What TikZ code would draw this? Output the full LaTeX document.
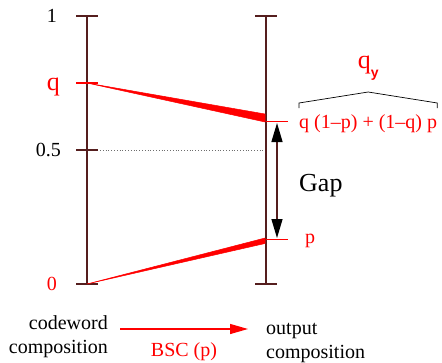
\documentclass[tikz,border=0pt]{standalone}
\usepackage{fontspec}
\setmainfont{Liberation Serif}
\newfontfamily\subsans{Liberation Sans}
\usetikzlibrary{arrows.meta,positioning,calc}
\definecolor{AxisColor}{RGB}{85,30,30}
\definecolor{ChannelRed}{RGB}{255,0,0}
\definecolor{DotGray}{RGB}{110,110,110}

\begin{document}
\begin{tikzpicture}[x=1pt, y=-1pt, >=Latex,
    axis/.style={AxisColor, line width=1.4pt},
    redtick/.style={ChannelRed, line width=1.3pt},
    wedge/.style={fill=ChannelRed, draw=ChannelRed, line width=0.5pt, line join=round},
    lbl/.style={inner sep=0pt, font=\rmfamily\fontsize{20}{24}\selectfont},
    biglbl/.style={inner sep=0pt, font=\rmfamily\fontsize{26}{26}\selectfont}]
  \useasboundingbox (0,0) rectangle (442,362);
  % the two composition axes
  \coordinate (Ltop) at (87,16);  \coordinate (Lbot) at (87,284);
  \coordinate (Rtop) at (266,16); \coordinate (Rbot) at (266,284);
  \coordinate (Lq) at (87,83);    \coordinate (Lhalf) at (87,150);
  \coordinate (Rqy) at (266,121.5); \coordinate (Rp) at (266,239.5);
  \draw[axis] (Ltop) -- (Lbot);
  \draw[axis] (Rtop) -- (Rbot);
  \foreach \c in {Ltop,Lhalf,Lbot,Rtop,Rbot}
    \draw[axis] ($(\c)+(-11,0)$) -- ($(\c)+(11,0)$);
  \draw[redtick] ($(Lq)+(-11,0)$) -- ($(Lq)+(11,0)$);
  \draw[redtick] (Rqy) -- ++(22,0);
  \draw[redtick] (Rp) -- ++(22,0);
  \draw[dotted, DotGray, line width=0.8pt] ($(Lhalf)+(13,0)$) -- ($(Lhalf)+(177,0)$);
  % channel wedges
  \filldraw[wedge] (Lq) -- ($(Rqy)+(-1,-7.5)$) -- ($(Rqy)+(-1,0.5)$) -- cycle;
  \filldraw[wedge] (Lbot) -- ($(Rp)+(-1,-1.5)$) -- ($(Rp)+(-1,4)$) -- cycle;
  % axis labels
  \node[lbl, anchor=base east] (one) at (57,22) {1};
  \node[biglbl, ChannelRed, anchor=base east] (qlab) at (60,90) {q};
  \node[lbl, anchor=base east] (half) at (61,156) {0.5};
  \node[lbl, ChannelRed, anchor=base east] (zero) at (57,290) {0};
  \node[lbl, ChannelRed, anchor=base west] (plab) at (305,243) {p};
  \node[lbl, ChannelRed, anchor=base west] (qexpr) at (299,128) {q (1\textendash p) + (1\textendash q) p};
  \draw[black, line width=0.7pt] ($(qexpr.base west)+(0,-20)$) -- ++(0,-5)
    -- ($(qexpr.base)+(0,-36)$) -- ($(qexpr.base east)+(0,-25)$) -- ++(0,5);
  \node[biglbl, ChannelRed, anchor=base] (qy) at ($(qexpr.base)+(0,-60)$)
    {q\raisebox{-9pt}{\fontsize{14}{14}\subsans\bfseries y}};
  % gap between the output compositions
  \coordinate (gapTop) at (277,123);
  \coordinate (gapBot) at (277,238);
  \draw[AxisColor, line width=1.3pt, {Triangle[length=19pt,width=11pt,color=black]}-{Triangle[length=19pt,width=11pt,color=black]}] (gapTop) -- (gapBot);
  \node[biglbl, anchor=base west] (gap) at (299,191) {Gap};
  % channel legend
  \node[lbl, align=right, anchor=base east] (codeword) at (108,353) {codeword\\composition};
  \node[lbl, align=left, anchor=base west] (output) at (266,358) {output\\composition};
  \coordinate (bscStart) at (120,329);
  \coordinate (bscEnd) at (248,329);
  \draw[ChannelRed, line width=1.3pt, -{Triangle[length=18pt,width=10pt]}] (bscStart) -- (bscEnd);
  \node[lbl, ChannelRed, anchor=base] (bsc) at ($(bscStart)!0.5!(bscEnd)+(0,27)$) {BSC (p)};
\end{tikzpicture}
\end{document}
